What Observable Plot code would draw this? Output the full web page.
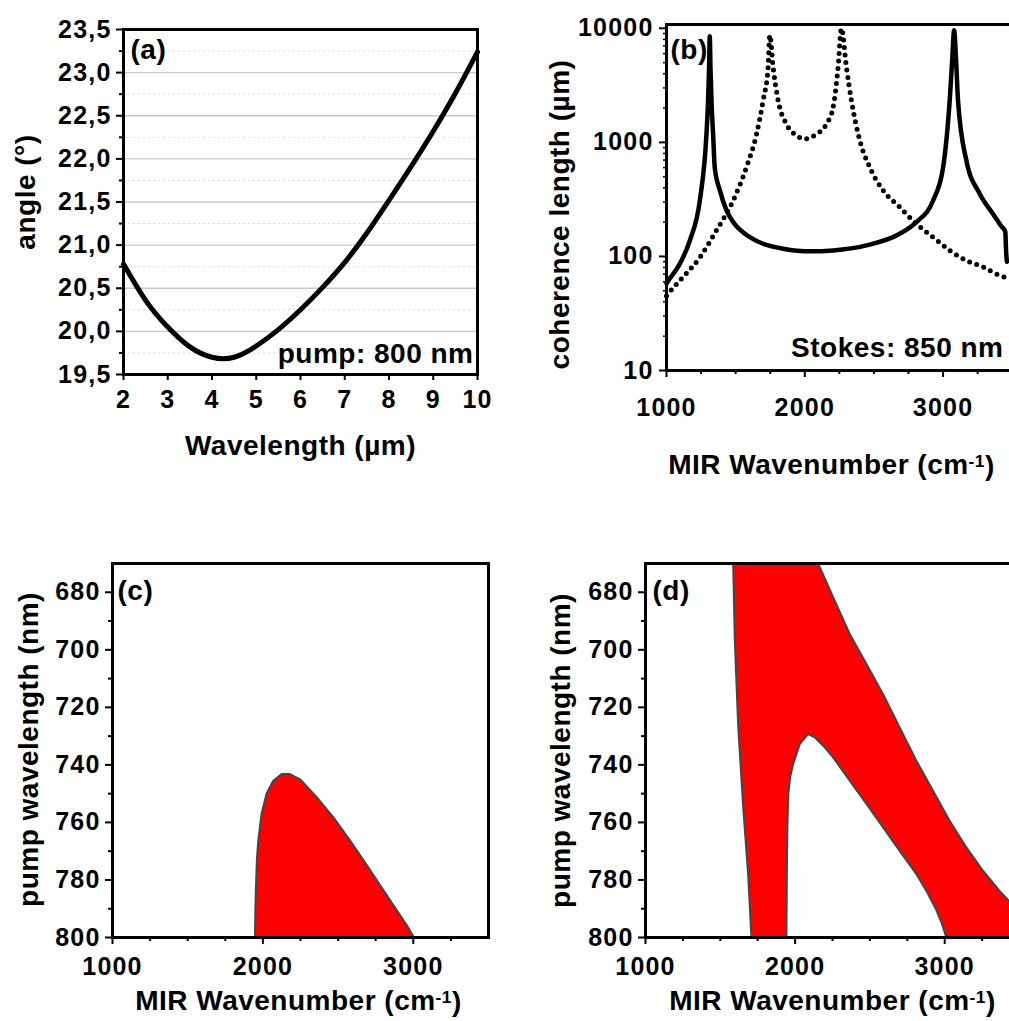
<!DOCTYPE html>
<html><head><meta charset="utf-8">
<script src="https://cdn.jsdelivr.net/npm/d3@7"></script>
<script src="https://cdn.jsdelivr.net/npm/@observablehq/plot@0.6"></script>
<style>
html,body{margin:0;padding:0;background:#fff;overflow:hidden;}
#wrap{position:relative;width:1009px;height:1021px;overflow:hidden;background:#fff;}
#wrap > svg{position:absolute;max-width:none;}
#wrap g[aria-label$="tick label"] text{letter-spacing:1.2px;}
#wrap g[aria-label="text"] text{letter-spacing:0.5px;}
</style></head><body><div id="wrap"></div>
<script>
// ---------- data: panel (a) ----------
const wavelengthUm = [2, 2.5, 3, 3.5, 4, 4.5, 5, 5.5, 6, 6.5, 7, 7.5, 8, 8.5, 9, 9.5, 10];
const angleDeg = [20.78, 20.36, 20.05, 19.82, 19.70, 19.70, 19.83, 20.02, 20.25, 20.51, 20.80, 21.14, 21.52, 21.91, 22.32, 22.76, 23.24];
const angleTicks = [19.5, 20, 20.5, 21, 21.5, 22, 22.5, 23, 23.5];
const angleMajorGrid = [20, 20.5, 21, 21.5, 22, 22.5, 23];
const angleMinorGrid = [19.75, 20.25, 20.75, 21.25, 21.75, 22.25, 22.75, 23.25];
const wavelengthTicks = [2, 3, 4, 5, 6, 7, 8, 9, 10];

// ---------- data: panel (b) ----------
const wnSolid = [1000, 1012, 1096, 1169, 1241, 1289, 1300, 1308, 1313, 1318, 1326, 1337, 1349, 1386, 1434, 1482, 1602, 1723, 1843, 2036, 2205, 2446, 2687, 2807, 2928, 3000, 3048, 3065, 3080, 3095, 3108, 3169, 3265, 3361, 3420, 3450, 3456, 3462];
const lcSolid = [58, 61, 86, 138, 309, 1180, 2200, 4500, 8500, 4500, 2200, 1180, 600, 380, 253, 200, 148, 126, 117, 111, 113, 125, 158, 200, 309, 600, 2340, 5000, 9600, 5000, 2340, 690, 355, 236, 185, 165, 110, 90];
const wnDotted = [1000, 1012, 1120, 1241, 1361, 1482, 1578, 1651, 1699, 1735, 1747, 1771, 1807, 1867, 1940, 2000, 2084, 2157, 2205, 2241, 2265, 2301, 2337, 2398, 2470, 2566, 2687, 2807, 2928, 3048, 3169, 3289, 3410, 3462];
const lcDotted = [45, 47, 66, 98, 169, 309, 605, 1180, 2340, 4570, 8700, 4570, 2340, 1450, 1150, 1070, 1180, 1450, 2030, 4570, 10000, 4570, 2340, 1040, 605, 380, 270, 193, 147, 113, 92, 81, 68, 65];
const lcTicks = [10, 100, 1000, 10000];
const lcMinorTicks = [20, 30, 40, 50, 60, 70, 80, 90, 200, 300, 400, 500, 600, 700, 800, 900, 2000, 3000, 4000, 5000, 6000, 7000, 8000, 9000];

// ---------- shared wavenumber ticks ----------
const wnTicks = [1000, 2000, 3000];
const wnMinorTicks = [1250, 1500, 1750, 2250, 2500, 2750, 3250];

// ---------- data: panel (c) ----------
const cBoundaryWn = [1947, 1950, 1954, 1960, 1969, 1991, 2024, 2069, 2125, 2180, 2247, 2359, 2470, 2581, 2693, 2804, 2915, 2960, 3004];
const cBoundaryPump = [800, 790, 782, 773, 766.4, 757, 750, 745.5, 743.2, 743.2, 745, 751.3, 758.3, 766.4, 775, 783.8, 792.5, 796, 800];

// ---------- data: panel (d) ----------
const dLeftWn = [1708, 1686, 1653, 1619, 1597, 1586];
const dLeftPump = [800, 778, 754.8, 725.8, 696.8, 670];
const dRightWn = [2154, 2254, 2365, 2477, 2588, 2699, 2811, 2922, 3033, 3145, 3256, 3367, 3428, 3500];
const dRightPump = [670, 681.7, 694.5, 704.9, 715.4, 727, 738.6, 749, 759.4, 768.7, 776.8, 783.8, 787.2, 792];
const dInnerWn = [1942, 1944, 1946, 1949, 1955, 1968, 1987, 2031, 2087, 2131, 2198, 2254, 2365, 2477, 2588, 2699, 2811, 2880, 2940, 2980, 3011];
const dInnerPump = [800, 785, 772, 760, 750, 744, 739.7, 732.8, 729.3, 730.4, 733.9, 737.4, 745.5, 753.6, 761.7, 769.9, 778, 784, 790, 795, 800];

const pumpTicks = [680, 700, 720, 740, 760, 780, 800];
const pumpMinorTicks = [690, 710, 730, 750, 770, 790];

// ---------- helpers ----------
const FONT = "'Liberation Sans', Arial, Helvetica, sans-serif";
const baseStyle = {fontFamily: FONT, fontWeight: "bold", fontSize: "25px", color: "black", background: "transparent", overflow: "visible", maxWidth: "none"};
const RED = "#ff0000";
const EDGE = "#3e4848";
const fmtComma = d => d.toFixed(1).replace(".", ",");
const fmtInt = d => String(d);
const pts = (xs, ys) => xs.map((x, i) => ({x, y: ys[i]}));
const wrap = document.getElementById("wrap");
function place(svg, left, top) {
  svg.style.left = left + "px";
  svg.style.top = top + "px";
  svg.querySelectorAll("text").forEach(t => {
    if (t.textContent === "MIR Wavenumber (cm⁻¹)") {
      while (t.firstChild) t.removeChild(t.firstChild);
      const ns = "http://www.w3.org/2000/svg";
      const a = document.createElementNS(ns, "tspan"); a.textContent = "MIR Wavenumber (cm";
      const b = document.createElementNS(ns, "tspan"); b.textContent = "-1"; b.setAttribute("dy", "-0.45em"); b.setAttribute("font-size", "62%");
      const c = document.createElementNS(ns, "tspan"); c.textContent = ")"; c.setAttribute("dy", "0.28em");
      t.append(a, b, c);
    }
  });
  wrap.appendChild(svg);
}
const label = (s, opts) => Plot.text([s], {fontSize: 28, lineAnchor: "middle", textAnchor: "middle", ...opts});
const wnAxes = (padding) => [
  Plot.axisX({ticks: wnTicks, tickSize: 7, tickPadding: padding, strokeWidth: 2, tickFormat: fmtInt, label: null}),
  Plot.axisX({ticks: wnMinorTicks, tickSize: 4, strokeWidth: 2, fill: "none", label: null})
];

// ---------- panel (a) ----------
place(Plot.plot({
  width: 500, height: 480,
  marginLeft: 123, marginRight: 23, marginTop: 29, marginBottom: 106,
  style: baseStyle,
  x: {domain: [2, 10]},
  y: {domain: [19.5, 23.5]},
  marks: [
    Plot.ruleY(angleMinorGrid, {stroke: "#d9d9d9", strokeWidth: 1, strokeDasharray: "2 3"}),
    Plot.ruleY(angleMajorGrid, {stroke: "#c8c8d2", strokeWidth: 1.3}),
    Plot.line(angleDeg, {x: wavelengthUm, y: angleDeg, stroke: "black", strokeWidth: 5, curve: "natural"}),
    Plot.frame({stroke: "black", strokeWidth: 3}),
    Plot.axisY({ticks: angleTicks, tickSize: 7, tickPadding: 5, strokeWidth: 2, tickFormat: fmtComma, label: null}),
    Plot.axisY({ticks: angleMinorGrid, tickSize: 4, strokeWidth: 2, fill: "none", label: null}),
    Plot.axisX({ticks: wavelengthTicks, tickSize: 6, tickPadding: 10, strokeWidth: 2, tickFormat: fmtInt, label: null}),
    label("angle (°)", {frameAnchor: "left", dx: -97, dy: -10, rotate: -90}),
    label("Wavelength (µm)", {frameAnchor: "bottom", dy: 72}),
    label("(a)", {frameAnchor: "top-left", textAnchor: "start", dx: 7, dy: 21}),
    label("pump: 800 nm", {frameAnchor: "bottom-right", textAnchor: "end", dx: -4, dy: -20})
  ]
}), 0, 0);

// ---------- panel (b) ----------
// the reference crops this panel on the right: the frame's right edge lies beyond the picture
place(Plot.plot({
  width: 560, height: 480,
  marginLeft: 166, marginRight: 40, marginTop: 24, marginBottom: 110,
  style: baseStyle,
  x: {domain: [1000, 3560]},
  y: {type: "log", domain: [10, 10800]},
  marks: [
    Plot.line(lcDotted, {x: wnDotted, y: lcDotted, stroke: "black", strokeWidth: 5, strokeDasharray: "0 7.5", strokeLinecap: "round", curve: "monotone-x"}),
    Plot.line(lcSolid, {x: wnSolid, y: lcSolid, stroke: "black", strokeWidth: 4.5, curve: "monotone-x"}),
    Plot.frame({stroke: "black", strokeWidth: 3}),
    Plot.axisY({ticks: lcTicks, tickSize: 7, tickPadding: 6, strokeWidth: 2, tickFormat: fmtInt, label: null}),
    Plot.axisY({ticks: lcMinorTicks, tickSize: 3, strokeWidth: 1.5, fill: "none", label: null}),
    ...wnAxes(21),
    label("coherence length (µm)", {frameAnchor: "left", dx: -106, dy: 17, rotate: -90}),
    label("MIR Wavenumber (cm⁻¹)", {frameAnchor: "bottom", dx: -12, dy: 95}),
    label("(b)", {frameAnchor: "top-left", textAnchor: "start", dx: 4, dy: 26}),
    label("Stokes: 850 nm", {frameAnchor: "bottom-right", textAnchor: "end", dx: -17, dy: -22})
  ]
}), 500, 0);

// ---------- panel (c) ----------
place(Plot.plot({
  width: 500, height: 481,
  marginLeft: 112, marginRight: 12, marginTop: 23, marginBottom: 84,
  style: baseStyle,
  x: {domain: [1000, 3500]},
  y: {domain: [670, 800], reverse: true},
  marks: [
    Plot.line(pts(cBoundaryWn, cBoundaryPump), {x: "x", y: "y", fill: RED, stroke: "none"}),
    Plot.line(pts(cBoundaryWn, cBoundaryPump), {x: "x", y: "y", stroke: EDGE, strokeWidth: 2}),
    Plot.frame({stroke: "black", strokeWidth: 3}),
    Plot.axisY({ticks: pumpTicks, tickSize: 7, tickPadding: 5, strokeWidth: 2, tickFormat: fmtInt, label: null}),
    Plot.axisY({ticks: pumpMinorTicks, tickSize: 4, strokeWidth: 2, fill: "none", label: null}),
    ...wnAxes(13),
    label("pump wavelength (nm)", {frameAnchor: "left", dx: -83, dy: -1, rotate: -90}),
    label("MIR Wavenumber (cm⁻¹)", {frameAnchor: "bottom", dx: -2, dy: 64}),
    label("(c)", {frameAnchor: "top-left", textAnchor: "start", dx: 5, dy: 28})
  ]
}), 0, 540);

// ---------- panel (d) ----------
const dOuter = [...pts(dLeftWn, dLeftPump), ...pts(dRightWn, dRightPump), {x: 3500, y: 800}];
place(Plot.plot({
  width: 530, height: 481,
  marginLeft: 145, marginRight: 11, marginTop: 23, marginBottom: 84,
  style: baseStyle,
  x: {domain: [1000, 3500]},
  y: {domain: [670, 800], reverse: true},
  marks: [
    Plot.line(dOuter, {x: "x", y: "y", fill: RED, stroke: "none"}),
    Plot.line(pts(dInnerWn, dInnerPump), {x: "x", y: "y", fill: "white", stroke: "none"}),
    Plot.line(pts(dLeftWn, dLeftPump), {x: "x", y: "y", stroke: EDGE, strokeWidth: 2}),
    Plot.line(pts(dRightWn, dRightPump), {x: "x", y: "y", stroke: EDGE, strokeWidth: 2}),
    Plot.line(pts(dInnerWn, dInnerPump), {x: "x", y: "y", stroke: EDGE, strokeWidth: 2}),
    Plot.frame({stroke: "black", strokeWidth: 3}),
    Plot.axisY({ticks: pumpTicks, tickSize: 7, tickPadding: 5, strokeWidth: 2, tickFormat: fmtInt, label: null}),
    Plot.axisY({ticks: pumpMinorTicks, tickSize: 4, strokeWidth: 2, fill: "none", label: null}),
    ...wnAxes(13),
    label("pump wavelength (nm)", {frameAnchor: "left", dx: -84, dy: 0, rotate: -90}),
    label("MIR Wavenumber (cm⁻¹)", {frameAnchor: "bottom", dx: 0, dy: 64}),
    label("(d)", {frameAnchor: "top-left", textAnchor: "start", dx: 7, dy: 28})
  ]
}), 500, 540);
</script>
</body></html>
